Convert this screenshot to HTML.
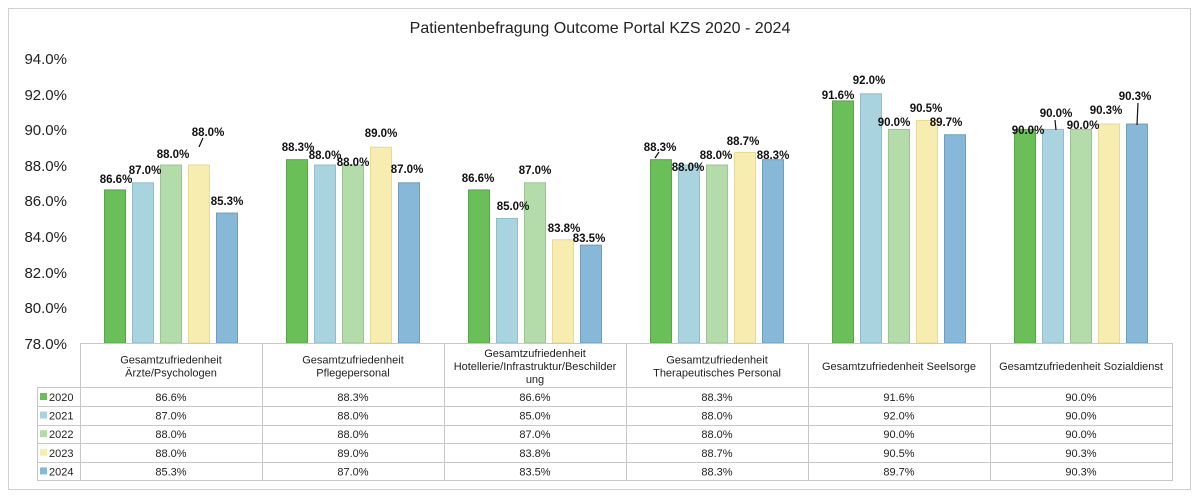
<!DOCTYPE html>
<html><head><meta charset="utf-8"><style>
body{margin:0;background:#fff}
svg{display:block;font-family:"Liberation Sans",Arial,sans-serif}
</style></head><body>
<svg width="1200" height="496" viewBox="0 0 1200 496">
<rect x="8.5" y="8.5" width="1182" height="481" fill="#fff" stroke="#d0d0d0"/>
<text x="600" y="33" font-size="16" text-anchor="middle" fill="#222">Patientenbefragung Outcome Portal KZS 2020 - 2024</text>
<g font-size="15" fill="#222" text-anchor="end">
<text x="67" y="64">94.0%</text><text x="67" y="100">92.0%</text><text x="67" y="135">90.0%</text><text x="67" y="171">88.0%</text><text x="67" y="206">86.0%</text><text x="67" y="242">84.0%</text><text x="67" y="278">82.0%</text><text x="67" y="313">80.0%</text><text x="67" y="349">78.0%</text>
</g>
<g id="bars"></g>
<g id="labels" font-size="11.5" font-weight="bold" text-anchor="middle" fill="#111"></g>
<g stroke="#111" stroke-width="1.2">
<line x1="199" y1="147" x2="203" y2="138"/>
<line x1="655" y1="158" x2="659" y2="152"/>
<line x1="1056" y1="130" x2="1055" y2="120"/>
<line x1="1137" y1="125" x2="1138" y2="103"/>
</g>
<g id="table" font-size="11" fill="#222"></g>
</svg>
<script>
const vals=[[86.6,87.0,88.0,88.0,85.3],[88.3,88.0,88.0,89.0,87.0],[86.6,85.0,87.0,83.8,83.5],[88.3,88.0,88.0,88.7,88.3],[91.6,92.0,90.0,90.5,89.7],[90.0,90.0,90.0,90.3,90.3]];
const fill=["#6abf59","#a9d3df","#b4dcaa","#f8edb0","#88b8d8"];
const strk=["#55a845","#8fbfcd","#98c68e","#e8da90","#6d9fc2"];
const Y=v=>343-(v-78)*17.8;
const lab=[[[116,179],[145,170],[173,154],[208,132],[227,201]],[[298,147],[325,155],[353,162],[381,133],[407,169]],[[478,178],[513,206],[535,170],[564,228],[589,238]],[[660,147],[688,167],[716,155],[743,141],[773,155]],[[838,95],[869,80],[894,122],[926,108],[946,122]],[[1028,130],[1056,113],[1083,125],[1106,110],[1135,96]]];
let b="",l="";
vals.forEach((g,gi)=>{const c=171+gi*182;g.forEach((v,i)=>{const x=c-66.5+i*28,y=Y(v);
b+=`<rect x="${x}" y="${y}" width="21" height="${343-y}" fill="${fill[i]}" stroke="${strk[i]}" stroke-width="1"/>`;
l+=`<text x="${lab[gi][i][0]}" y="${lab[gi][i][1]+4}">${v.toFixed(1)}%</text>`;});});
document.getElementById("bars").innerHTML=b;document.getElementById("labels").innerHTML=l;
const cats=[["Gesamtzufriedenheit","Ärzte/Psychologen"],["Gesamtzufriedenheit","Pflegepersonal"],["Gesamtzufriedenheit","Hotellerie/Infrastruktur/Beschilder","ung"],["Gesamtzufriedenheit","Therapeutisches Personal"],["Gesamtzufriedenheit Seelsorge"],["Gesamtzufriedenheit Sozialdienst"]];
let t=`<g stroke="#c8c8c8" fill="none"><rect x="80.5" y="343.5" width="1092" height="137"/><rect x="37.5" y="387.5" width="43" height="93"/>`;
[406,425,443,462].forEach(y=>t+=`<line x1="37" y1="${y+.5}" x2="1173" y2="${y+.5}"/>`);
t+=`<line x1="80" y1="387.5" x2="1173" y2="387.5"/>`;
for(let i=1;i<6;i++)t+=`<line x1="${80.5+i*182}" y1="343" x2="${80.5+i*182}" y2="481"/>`;
t+=`</g>`;
cats.forEach((c,i)=>{const cx=171+i*182;const n=c.length;const y0=366-(n-1)*6.5+4;c.forEach((s,j)=>t+=`<text x="${cx}" y="${y0+j*13}" text-anchor="middle">${s}</text>`);});
const yrs=["2020","2021","2022","2023","2024"];
yrs.forEach((yr,i)=>{const cy=397+i*18.6;t+=`<rect x="40" y="${cy-4}" width="7" height="7" fill="${fill[i]}"/><text x="49" y="${cy+4}">${yr}</text>`;
vals.forEach((g,gi)=>t+=`<text x="${171+gi*182}" y="${cy+4}" text-anchor="middle">${g[i].toFixed(1)}%</text>`);});
document.getElementById("table").innerHTML=t;
</script>
</body></html>
